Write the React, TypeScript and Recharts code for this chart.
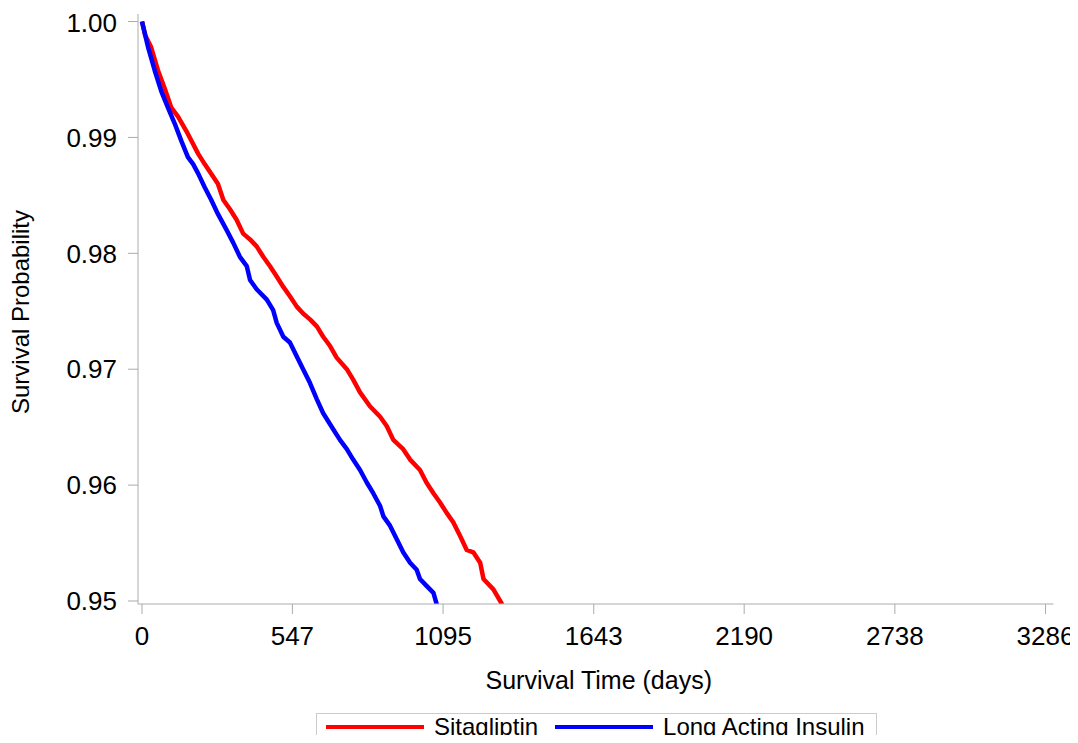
import React from 'react';
import { LineChart, Line, XAxis, YAxis } from 'recharts';

const sitaDays = [0, 12, 33, 58, 83, 106, 131, 167, 204, 228, 276, 296, 320, 344, 368, 393, 417, 441, 465, 490, 514, 538, 563, 586, 611, 636, 659, 684, 708, 745, 768, 793, 829, 866, 890, 914, 950, 975, 1011, 1035, 1060, 1084, 1108, 1132, 1157, 1181, 1205, 1230, 1242, 1278, 1310];
const sitaSurv = [1.0, 0.9988, 0.9978, 0.9958, 0.9942, 0.9926, 0.9918, 0.9903, 0.9886, 0.9877, 0.986, 0.9846, 0.9838, 0.9829, 0.9817, 0.9812, 0.9806, 0.9797, 0.9789, 0.978, 0.9771, 0.9763, 0.9754, 0.9748, 0.9743, 0.9737, 0.9728, 0.972, 0.971, 0.97, 0.9691, 0.968, 0.9668, 0.9659, 0.9651, 0.9639, 0.9631, 0.9622, 0.9613, 0.9602, 0.9593, 0.9585, 0.9576, 0.9568, 0.9556, 0.9544, 0.9542, 0.9533, 0.9519, 0.951, 0.9497];

const insDays = [0, 12, 22, 46, 70, 94, 119, 143, 167, 186, 204, 228, 252, 276, 308, 332, 356, 381, 393, 417, 454, 477, 490, 514, 538, 563, 586, 611, 636, 659, 696, 720, 745, 768, 793, 818, 841, 866, 878, 902, 927, 950, 975, 999, 1011, 1035, 1060, 1072];
const insSurv = [1.0, 0.9988, 0.9978, 0.9958, 0.994, 0.9926, 0.9912, 0.9897, 0.9883, 0.9877, 0.9869, 0.9857, 0.9846, 0.9834, 0.982, 0.9809, 0.9797, 0.9789, 0.9777, 0.9769, 0.976, 0.9751, 0.974, 0.9728, 0.9723, 0.9711, 0.97, 0.9688, 0.9674, 0.9662, 0.9648, 0.9639, 0.9631, 0.9622, 0.9613, 0.9602, 0.9593, 0.9582, 0.9573, 0.9565, 0.9553, 0.9542, 0.9533, 0.9527, 0.9519, 0.9513, 0.9507, 0.9497];

const xTicks = [0, 547, 1095, 1643, 2190, 2738, 3286];
const yTicks = [0.95, 0.96, 0.97, 0.98, 0.99, 1.0];

const seriesNames = ['Sitagliptin', 'Long Acting Insulin'];
const seriesColors = ['#ff0000', '#0000ff'];

const sitaData = sitaDays.map((t, i) => ({ t, s: sitaSurv[i] }));
const insData = insDays.map((t, i) => ({ t, s: insSurv[i] }));

const FONT = '"Liberation Sans", Arial, Helvetica, sans-serif';
const FRAME = '#a8acb0';
const X_DOMAIN = [-14.5, 3315];
const Y_DOMAIN = [0.94974, 1.00065];

const XTitle = (props: any) => {
  const vb = props.viewBox;
  return (
    <text x={vb.x + vb.width / 2 + 3} y={vb.y + 85} textAnchor="middle" fontSize={25} fontFamily={FONT} fill="#000">
      Survival Time (days)
    </text>
  );
};

const YTitle = (props: any) => {
  const vb = props.viewBox;
  const cx = 21;
  const cy = vb.y + vb.height / 2 + 3;
  return (
    <text x={cx} y={cy} transform={`rotate(-90, ${cx}, ${cy})`} textAnchor="middle" fontSize={24} fontFamily={FONT} fill="#000">
      Survival Probability
    </text>
  );
};

export default function App() {
  return (
    <div style={{ position: 'relative', width: 1070, height: 727, fontFamily: FONT }}>
      <LineChart width={1070} height={727} margin={{ top: 6, right: 24.5, left: 0, bottom: 71 }}>
        <XAxis
          xAxisId={0}
          type="number"
          dataKey="t"
          domain={X_DOMAIN}
          ticks={xTicks}
          allowDataOverflow
          height={60}
          tickSize={10}
          tickMargin={13}
          tick={{ fill: '#000', fontSize: 26, fontFamily: FONT }}
          tickLine={{ stroke: FRAME }}
          axisLine={{ stroke: FRAME }}
          label={<XTitle />}
        />
        <XAxis
          xAxisId="top"
          orientation="top"
          type="number"
          dataKey="t"
          domain={X_DOMAIN}
          height={0}
          tick={false}
          tickLine={false}
          axisLine={{ stroke: FRAME }}
        />
        <YAxis
          yAxisId={0}
          type="number"
          domain={Y_DOMAIN}
          ticks={yTicks}
          allowDataOverflow
          width={130}
          tickSize={10}
          tickMargin={11}
          tickFormatter={(v: number) => v.toFixed(2)}
          tick={{ fill: '#000', fontSize: 26, fontFamily: FONT }}
          tickLine={{ stroke: FRAME }}
          axisLine={{ stroke: FRAME }}
          label={<YTitle />}
        />
        <YAxis
          yAxisId="right"
          orientation="right"
          type="number"
          domain={Y_DOMAIN}
          width={0}
          tick={false}
          tickLine={false}
          axisLine={{ stroke: FRAME }}
        />
        <Line
          data={sitaData}
          dataKey="s"
          name={seriesNames[0]}
          type="linear"
          stroke={seriesColors[0]}
          strokeWidth={4.5}
          strokeLinejoin="round"
          dot={false}
          isAnimationActive={false}
        />
        <Line
          data={insData}
          dataKey="s"
          name={seriesNames[1]}
          type="linear"
          stroke={seriesColors[1]}
          strokeWidth={4.5}
          strokeLinejoin="round"
          dot={false}
          isAnimationActive={false}
        />
      </LineChart>
      <div
        style={{
          position: 'absolute',
          left: 308,
          top: 705,
          width: 559,
          height: 26,
          border: '1px solid #cccccc',
          display: 'flex',
          alignItems: 'center',
          fontSize: 24,
          fontFamily: FONT,
          color: '#000',
          boxSizing: 'content-box',
        }}
      >
        {seriesNames.map((n, i) => (
          <div key={n} style={{ display: 'flex', alignItems: 'center', marginLeft: i === 0 ? 9 : 17 }}>
            <div style={{ width: 98, height: 4, background: seriesColors[i], marginRight: 10 }} />
            <span style={{ lineHeight: '26px', whiteSpace: 'nowrap' }}>{n}</span>
          </div>
        ))}
      </div>
    </div>
  );
}
